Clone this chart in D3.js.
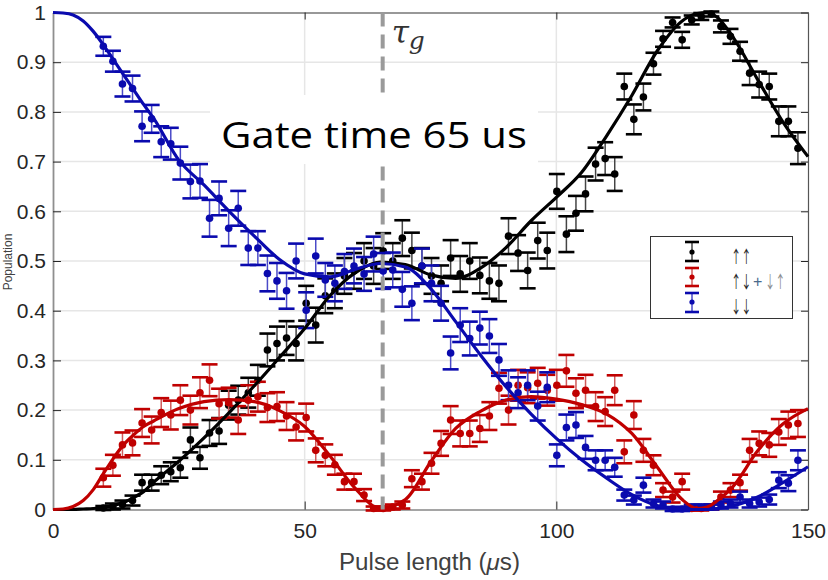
<!DOCTYPE html>
<html><head><meta charset="utf-8">
<script src="https://cdn.jsdelivr.net/npm/d3@7"></script>
<style>body{margin:0;background:#fff}svg{display:block}</style>
</head><body>
<svg id="chart" width="828" height="580"></svg>
<script>
// ---------- data ----------
const pulseLength = [10.0,11.9,13.8,15.8,17.7,19.6,21.5,23.4,25.3,27.3,
 29.2,31.1,33.0,34.9,36.8,38.8,40.7,42.6,44.5,46.4,
 48.3,50.3,52.2,54.1,56.0,57.9,59.8,61.8,63.7,65.6,
 67.5,69.4,71.3,73.3,75.2,77.1,79.0,80.9,82.8,84.8,
 86.7,88.6,90.5,92.4,94.3,96.3,98.2,100.1,102.0,103.9,
 105.8,107.8,109.7,111.6,113.5,115.4,117.3,119.3,121.2,123.1,
 125.0,126.9,128.8,130.8,132.7,134.6,136.5,138.4,140.3,142.3,
 144.2,146.1,148.0];
const upUp = [0.003,0.006,0.010,0.018,0.054,0.054,0.069,0.076,0.084,0.140,
 0.104,0.154,0.158,0.210,0.220,0.235,0.260,0.321,0.334,0.345,
 0.334,0.415,0.371,0.430,0.440,0.470,0.480,0.500,0.490,0.520,
 0.500,0.546,0.521,0.490,0.470,0.455,0.506,0.474,0.500,0.471,
 0.460,0.455,0.550,0.516,0.481,0.541,0.521,0.640,0.554,0.596,
 0.635,0.695,0.706,0.675,0.851,0.785,0.830,0.897,0.947,0.980,
 0.945,0.985,0.992,0.997,0.972,0.952,0.922,0.878,0.855,0.851,
 0.781,0.781,0.727];
const upUpErr = [0.004,0.006,0.008,0.010,0.016,0.016,0.018,0.019,0.020,0.025,
 0.022,0.026,0.026,0.029,0.029,0.030,0.031,0.033,0.034,0.034,
 0.034,0.035,0.035,0.035,0.035,0.036,0.036,0.036,0.036,0.036,
 0.036,0.036,0.036,0.036,0.036,0.036,0.036,0.036,0.036,0.036,
 0.036,0.036,0.036,0.036,0.036,0.036,0.036,0.035,0.036,0.035,
 0.035,0.033,0.033,0.034,0.026,0.030,0.027,0.022,0.016,0.010,
 0.016,0.009,0.007,0.005,0.012,0.015,0.019,0.024,0.026,0.026,
 0.030,0.030,0.032];
const mixed = [0.064,0.089,0.130,0.134,0.174,0.160,0.195,0.190,0.220,0.200,
 0.235,0.260,0.213,0.215,0.180,0.220,0.227,0.205,0.207,0.188,
 0.166,0.185,0.119,0.109,0.090,0.056,0.056,0.029,0.002,0.002,
 0.005,0.009,0.062,0.056,0.093,0.133,0.180,0.153,0.153,0.163,
 0.188,0.244,0.200,0.250,0.245,0.254,0.240,0.250,0.279,0.234,
 0.240,0.207,0.197,0.240,0.116,0.190,0.119,0.089,0.039,0.025,
 0.056,0.002,0.002,0.005,0.025,0.039,0.054,0.119,0.133,0.130,
 0.156,0.170,0.173];
const mixedErr = [0.018,0.021,0.025,0.025,0.028,0.027,0.029,0.029,0.030,0.029,
 0.031,0.032,0.030,0.030,0.028,0.030,0.030,0.029,0.029,0.028,
 0.027,0.028,0.024,0.022,0.020,0.016,0.016,0.012,0.004,0.004,
 0.005,0.007,0.017,0.016,0.021,0.025,0.028,0.026,0.026,0.027,
 0.028,0.031,0.029,0.031,0.031,0.031,0.031,0.031,0.032,0.030,
 0.031,0.029,0.029,0.030,0.023,0.028,0.023,0.020,0.014,0.011,
 0.016,0.004,0.004,0.005,0.011,0.014,0.016,0.023,0.024,0.024,
 0.026,0.027,0.027];
const downDown = [0.932,0.902,0.856,0.847,0.771,0.786,0.740,0.736,0.697,0.660,
 0.661,0.586,0.626,0.566,0.606,0.526,0.526,0.475,0.460,0.440,
 0.500,0.401,0.510,0.462,0.455,0.479,0.490,0.474,0.514,0.480,
 0.482,0.443,0.415,0.490,0.455,0.415,0.315,0.371,0.344,0.365,
 0.349,0.301,0.250,0.235,0.250,0.208,0.246,0.109,0.165,0.170,
 0.125,0.099,0.099,0.085,0.029,0.019,0.049,0.012,0.009,0.001,
 0.001,0.005,0.005,0.005,0.009,0.012,0.025,0.012,0.015,0.020,
 0.059,0.053,0.099];
const downDownErr = [0.019,0.021,0.025,0.026,0.030,0.028,0.031,0.032,0.033,0.034,
 0.034,0.037,0.034,0.036,0.035,0.034,0.034,0.036,0.036,0.036,
 0.035,0.036,0.035,0.034,0.036,0.035,0.035,0.034,0.035,0.036,
 0.035,0.035,0.034,0.035,0.036,0.035,0.033,0.034,0.034,0.033,
 0.034,0.032,0.030,0.031,0.030,0.029,0.030,0.022,0.026,0.026,
 0.023,0.020,0.020,0.019,0.011,0.009,0.015,0.008,0.007,0.004,
 0.004,0.005,0.005,0.005,0.007,0.008,0.011,0.008,0.009,0.010,
 0.016,0.016,0.020];

// fitted curves
const fitX = [0,2,4,6,8,10,12,14,16,18,20,25,30,35,40,45,50,55,60,65,70,75,80,85,90,95,100,105,110,115,120,125,128,130,132,135,140,145,150];
const fitUpUp = [0,0,0,0.001,0.002,0.004,0.008,0.014,0.024,0.036,0.055,0.097,0.144,0.195,0.249,0.306,0.364,0.430,0.476,0.498,0.493,0.472,0.465,0.486,0.527,0.581,0.628,0.678,0.752,0.833,0.922,0.983,0.998,1.0,0.99,0.952,0.865,0.78,0.71];
const fitMixed = [0,0.001,0.006,0.018,0.040,0.072,0.103,0.130,0.150,0.167,0.178,0.203,0.217,0.221,0.217,0.199,0.167,0.108,0.043,0.002,0.020,0.095,0.163,0.198,0.220,0.227,0.222,0.211,0.192,0.153,0.086,0.020,0.002,0.005,0.018,0.045,0.118,0.172,0.203];
const fitDownDown = [1.0,0.999,0.995,0.983,0.962,0.935,0.905,0.875,0.845,0.815,0.787,0.703,0.653,0.600,0.550,0.503,0.474,0.468,0.483,0.495,0.488,0.445,0.378,0.310,0.247,0.192,0.143,0.100,0.063,0.030,0.008,0.0,0.0,0.0,0.002,0.007,0.025,0.054,0.086];

const xTicks = [0,50,100,150];
const xTickLabels = ['0','50','100','150'];
const yTicks = [0,0.1,0.2,0.3,0.4,0.5,0.6,0.7,0.8,0.9,1];
const yTickLabels = ['0','0.1','0.2','0.3','0.4','0.5','0.6','0.7','0.8','0.9','1'];
const gateTime = 65.5;
const seriesNames = ['upUp','mixed','downDown'];
const seriesColors = ['#000000','#c00000','#0a0aae'];
const stemColors = ['#444444','#d05a5a','#4a4ac8'];

// ---------- drawing ----------
const svg = d3.select('#chart');
const x = d3.scaleLinear().domain([0,150]).range([53,808]);
const y = d3.scaleLinear().domain([0,1]).range([509.5,12.5]);
const font = '"Liberation Sans", Arial, Helvetica, sans-serif';
const txtCol = '#262626';

svg.append('rect').attr('width',828).attr('height',580).attr('fill','#fff');

// grid
const grid = svg.append('g');
grid.selectAll('line.gy').data(yTicks.slice(1,-1)).enter().append('line')
  .attr('x1',x(0)).attr('x2',x(150)).attr('y1',d=>y(d)).attr('y2',d=>y(d))
  .attr('stroke','#e6e6e6').attr('stroke-width',1.5);
grid.selectAll('line.gx').data(xTicks.slice(1,-1)).enter().append('line')
  .attr('y1',y(0)).attr('y2',y(1)).attr('x1',d=>x(d)).attr('x2',d=>x(d))
  .attr('stroke','#e6e6e6').attr('stroke-width',1.5);

// axes
function styleAxis(g, domainCol, domainW){
  g.select('.domain').attr('stroke',domainCol).attr('stroke-width',domainW);
  g.selectAll('.tick line').attr('stroke','#262626').attr('stroke-width',1);
  g.selectAll('.tick text').attr('fill',txtCol).attr('font-family',font).attr('font-size',21);
}
const gB = svg.append('g').attr('transform',`translate(0,${y(0)})`)
  .call(d3.axisBottom(x).tickValues(xTicks).tickSize(-8).tickSizeOuter(0).tickPadding(14)
    .tickFormat((d,i)=>xTickLabels[i]));
styleAxis(gB,'#4d4d4d',1.2);
const gT = svg.append('g').attr('transform',`translate(0,${y(1)})`)
  .call(d3.axisTop(x).tickValues(xTicks).tickSize(-7).tickSizeOuter(0).tickFormat(''));
styleAxis(gT,'#333333',1.2);
const gR = svg.append('g').attr('transform',`translate(${x(150)},0)`)
  .call(d3.axisRight(y).tickValues(yTicks).tickSize(-7).tickSizeOuter(0).tickFormat(''));
styleAxis(gR,'#555555',1.2);
const gL = svg.append('g').attr('transform',`translate(${x(0)},0)`)
  .call(d3.axisLeft(y).tickValues(yTicks).tickSize(-8).tickSizeOuter(0).tickPadding(7)
    .tickFormat((d,i)=>yTickLabels[i]));
styleAxis(gL,'#8f8f8f',1.8);

// axis labels
const xl = svg.append('text').attr('x',x(75)-1).attr('y',570).attr('text-anchor','middle')
  .attr('font-family',font).attr('font-size',23).attr('fill','#404040')
  .attr('textLength',181).attr('lengthAdjust','spacingAndGlyphs');
xl.append('tspan').text('Pulse length (');
xl.append('tspan').attr('font-style','italic').text('\u03bc');
xl.append('tspan').text('s)');
svg.append('text').attr('transform','translate(12,262) rotate(-90)').attr('text-anchor','middle')
  .attr('font-family',font).attr('font-size',12).attr('fill','#404040').text('Population');

// data
const seriesVals = [upUp, mixed, downDown];
const seriesErr = [upUpErr, mixedErr, downDownErr];
const fits = [fitUpUp, fitMixed, fitDownDown];
const capW = 8;
seriesVals.forEach((vals,si)=>{
  const pts = pulseLength.map((px,i)=>({x:px,v:vals[i],e:seriesErr[si][i]}));
  const g = svg.append('g').attr('class',seriesNames[si]);
  g.selectAll('line.stem').data(pts).enter().append('line')
    .attr('x1',d=>x(d.x)).attr('x2',d=>x(d.x)).attr('y1',d=>y(d.v-d.e)).attr('y2',d=>y(d.v+d.e))
    .attr('stroke',stemColors[si]).attr('stroke-width',1.5);
  g.selectAll('line.capT').data(pts).enter().append('line')
    .attr('x1',d=>x(d.x)-capW).attr('x2',d=>x(d.x)+capW).attr('y1',d=>y(d.v+d.e)).attr('y2',d=>y(d.v+d.e))
    .attr('stroke',seriesColors[si]).attr('stroke-width',2.6);
  g.selectAll('line.capB').data(pts).enter().append('line')
    .attr('x1',d=>x(d.x)-capW).attr('x2',d=>x(d.x)+capW).attr('y1',d=>y(d.v-d.e)).attr('y2',d=>y(d.v-d.e))
    .attr('stroke',seriesColors[si]).attr('stroke-width',2.6);
  g.selectAll('circle').data(pts).enter().append('circle')
    .attr('cx',d=>x(d.x)).attr('cy',d=>y(d.v)).attr('r',3.8).attr('fill',seriesColors[si]);
});
const line = d3.line().x(d=>x(d[0])).y(d=>y(d[1])).curve(d3.curveMonotoneX);
fits.forEach((f,si)=>{
  svg.append('path').datum(fitX.map((fx,i)=>[fx,f[i]])).attr('d',line)
    .attr('fill','none').attr('stroke',seriesColors[si]).attr('stroke-width',3.2);
});

// gate time dashed line
svg.append('line').attr('x1',x(gateTime)).attr('x2',x(gateTime)).attr('y1',y(1)).attr('y2',y(0))
  .attr('stroke','#9a9a9a').attr('stroke-width',4).attr('stroke-dasharray','14,8');
svg.append('text').attr('x',x(gateTime)+9).attr('y',43).attr('font-family','"DejaVu Serif", serif')
  .attr('font-style','italic').attr('font-size',31).attr('fill','#333').text('\u03c4');
svg.append('text').attr('x',x(gateTime)+26).attr('y',49).attr('font-family','"DejaVu Serif", serif')
  .attr('font-style','italic').attr('font-size',25).attr('fill','#333').text('g');

// annotation box
svg.append('rect').attr('x',210).attr('y',95).attr('width',328).attr('height',69).attr('fill','#fff');
svg.append('text').attr('x',221).attr('y',148).attr('font-family','"Open Sans", Lato, sans-serif')
  .attr('font-size',37).attr('fill','#000').attr('textLength',306).attr('lengthAdjust','spacingAndGlyphs')
  .text('Gate time 65 us');

// legend
const lg = svg.append('g');
lg.append('rect').attr('x',650.5).attr('y',236.5).attr('width',142).attr('height',82)
  .attr('fill','#fff').attr('stroke','#333').attr('stroke-width',1);
const legY = [[242,252,261],[268,277,286],[293,302,312]];
legY.forEach((yy,si)=>{
  lg.append('line').attr('x1',692).attr('x2',692).attr('y1',yy[0]).attr('y2',yy[2])
    .attr('stroke',stemColors[si]).attr('stroke-width',1.5);
  [yy[0],yy[2]].forEach(cy=>lg.append('line').attr('x1',685).attr('x2',699).attr('y1',cy).attr('y2',cy)
    .attr('stroke',seriesColors[si]).attr('stroke-width',2.6));
  lg.append('circle').attr('cx',692).attr('cy',yy[1]).attr('r',2.6).attr('fill',seriesColors[si]);
});
const arrowFont = '"Noto Sans CJK SC", "DejaVu Sans", sans-serif';
const legArrows = [
  {t:'\u2191\u2191', x:731, y:263, c:'#222'},
  {t:'\u2191\u2193', x:731, y:288, c:'#222'},
  {t:'\u2193\u2191', x:765, y:288, c:'#8a8a8a'},
  {t:'\u2193\u2193', x:731, y:313, c:'#222'}
];
legArrows.forEach(d=>{
  lg.append('text').attr('transform',`translate(${d.x},${d.y}) scale(0.6,1)`)
    .attr('font-family',arrowFont).attr('font-size',17).attr('fill',d.c).text(d.t);
});
lg.append('text').attr('x',753).attr('y',287).attr('font-family',font).attr('font-size',16)
  .attr('fill','#4a6a8c').text('+');
</script>
</body></html>
